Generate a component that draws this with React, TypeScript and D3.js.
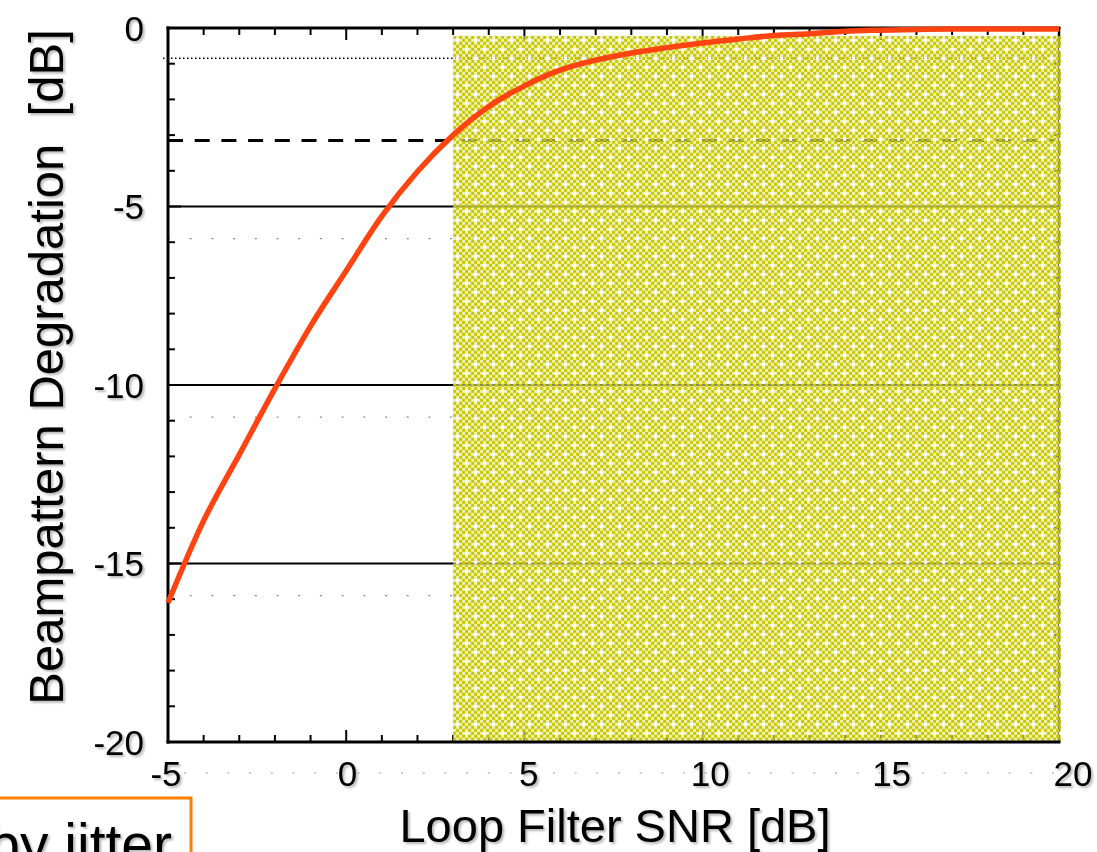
import React from "react";
import * as d3 from "d3";

const snr = [-5, -4, -3, -2, -1, 0, 1, 2, 3, 4, 5, 6, 7, 8, 9, 10, 11, 12, 13, 14, 15, 16, 17, 18, 19, 20];
const degradation = [-16.1, -13.8, -11.95, -10.1, -8.35, -6.8, -5.27, -4.02, -3.0, -2.2, -1.62, -1.18, -0.9, -0.7, -0.55, -0.42, -0.31, -0.21, -0.16, -0.09, -0.06, -0.04, -0.03, -0.03, -0.03, -0.03];

const xTickValues = [-5, 0, 5, 10, 15, 20];
const xTickLabels = ["-5", "0", "5", "10", "15", "20"];
const yTickValues = [0, -5, -10, -15, -20];
const yTickLabels = ["0", "-5", "-10", "-15", "-20"];

const solidLevels = [-5, -10, -15];
const sparseDotLevels = [-5.9, -10.9, -15.9];
const denseDotLevel = -0.85;
const dashedLevel = -3.15;

const shadeX = [3, 20];
const shadeY = [-0.22, -20];

const xTitle = "Loop Filter SNR [dB]";
const yTitle = "Beampattern Degradation  [dB]";
const boxText = "by jitter";

const FONT = "'Liberation Sans', Arial, Helvetica, sans-serif";

export default function App() {
  const x = d3.scaleLinear().domain([-5, 20]).range([168, 1059]);
  const y = d3.scaleLinear().domain([0, -20]).range([28, 742]);
  const xLab = d3.scaleLinear().domain([-5, 20]).range([166, 1073]);

  const line = d3
    .line<number>()
    .x((_, i) => x(snr[i]))
    .y((d) => y(d))
    .curve(d3.curveMonotoneX);

  const minorX = d3.range(-5, 20.001, 1);
  const minorY = d3.range(0, -20.001, -1);
  const cell = 3;
  const P = 18;

  return (
    <div style={{ position: "absolute", left: 0, top: 0 }}>
      <svg width={1097} height={852} style={{ display: "block" }} fontFamily={FONT}>
        <defs>
          <pattern id="shade" width={P} height={P} patternUnits="userSpaceOnUse" x={x(shadeX[0])} y={y(shadeY[0])}>
            <rect x={0} y={0} width={P} height={P} fill="#e6e68a" fillOpacity={0.6} />
            {d3.range(0, P, cell).flatMap((cx) =>
              d3.range(0, P, cell).map((cy) =>
                (cx / cell + cy / cell) % 2 === 0 ? (
                  <rect key={`${cx}-${cy}`} x={cx} y={cy} width={cell} height={cell} fill="#c8c800" />
                ) : null
              )
            )}
            <rect x={3} y={3} width={3} height={3} fill="#ffffff" />
            <rect x={12} y={12} width={3} height={3} fill="#ffffff" />
          </pattern>
          <filter id="shadow" x="-10%" y="-10%" width="130%" height="130%">
            <feDropShadow dx={2} dy={2} stdDeviation={1.2} floodColor="#000" floodOpacity={0.28} />
          </filter>
        </defs>

        {/* x tick label guide line */}
        <line x1={x(-5) + 16} x2={x(20)} y1={773} y2={773} stroke="#999" strokeWidth={1} strokeDasharray="2,19.7" />

        {/* reference lines */}
        {sparseDotLevels.map((v) => (
          <line key={`sd${v}`} x1={x(-5)} x2={x(20) - 12} y1={y(v)} y2={y(v)} stroke="#888" strokeWidth={1.2} strokeDasharray="2,19.7" />
        ))}
        <line x1={x(-5) - 5} x2={x(20) - 15} y1={y(denseDotLevel)} y2={y(denseDotLevel)} stroke="#000" strokeWidth={1.5} strokeDasharray="1.5,2.5" />
        <line x1={x(-5)} x2={x(20) - 5} y1={y(dashedLevel)} y2={y(dashedLevel)} stroke="#000" strokeWidth={3} strokeDasharray="15,11.7" />
        {solidLevels.map((v) => (
          <line key={`s${v}`} x1={x(-5)} x2={x(20)} y1={y(v)} y2={y(v)} stroke="#000" strokeWidth={2} />
        ))}

        {/* ticks */}
        {minorX.map((v) => {
          const major = xTickValues.includes(v);
          const len = major ? 12 : 7;
          return (
            <g key={`xt${v}`}>
              <line x1={x(v)} x2={x(v)} y1={y(-20)} y2={y(-20) - len} stroke="#000" strokeWidth={2} />
              <line x1={x(v)} x2={x(v)} y1={y(0)} y2={y(0) + len} stroke="#000" strokeWidth={2} />
            </g>
          );
        })}
        {minorY.map((v) => {
          const major = yTickValues.includes(v);
          const len = major ? 13 : 7;
          return (
            <g key={`yt${v}`}>
              <line x1={x(-5)} x2={x(-5) + len} y1={y(v)} y2={y(v)} stroke="#000" strokeWidth={2} />
              <line x1={x(20)} x2={x(20) - (major ? 10 : 5)} y1={y(v)} y2={y(v)} stroke="#000" strokeWidth={2} />
            </g>
          );
        })}

        {/* right border */}
        <line x1={x(20)} x2={x(20)} y1={y(0)} y2={y(-20)} stroke="#000" strokeWidth={2.5} />

        {/* shaded region */}
        <rect
          x={x(shadeX[0])}
          y={y(shadeY[0])}
          width={x(shadeX[1]) - x(shadeX[0]) + 2}
          height={y(shadeY[1]) - y(shadeY[0])}
          fill="url(#shade)"
        />

        {/* axes lines */}
        <line x1={x(-5)} x2={x(-5)} y1={y(0) - 1.5} y2={y(-20) + 1.5} stroke="#000" strokeWidth={3} />
        <line x1={x(-5) - 1.5} x2={x(20) + 1.5} y1={y(-20)} y2={y(-20)} stroke="#000" strokeWidth={3} />
        <line x1={x(-5) - 1.5} x2={x(20) + 1.5} y1={y(0)} y2={y(0)} stroke="#000" strokeWidth={3} />

        {/* curve */}
        <path d={line(degradation) || ""} fill="none" stroke="#ff4411" strokeWidth={5.5} strokeLinejoin="round" />

        {/* tick labels */}
        <g filter="url(#shadow)" fill="#000">
          {yTickValues.map((v, i) => (
            <text key={`yl${v}`} x={144} y={y(v)} fontSize={35} textAnchor="end" dominantBaseline="central">
              {yTickLabels[i]}
            </text>
          ))}
          {xTickValues.map((v, i) => (
            <text key={`xl${v}`} x={xLab(v)} y={773} fontSize={35} textAnchor="middle" dominantBaseline="central">
              {xTickLabels[i]}
            </text>
          ))}
          <text x={615} y={842} fontSize={47} textAnchor="middle">
            {xTitle}
          </text>
          <text
            transform={`translate(63,367) rotate(-90)`}
            fontSize={49}
            textAnchor="middle"
            style={{ whiteSpace: "pre" }}
          >
            {yTitle}
          </text>
        </g>

        {/* cut-off annotation box */}
        <rect x={-10} y={798} width={201} height={90} fill="#fff" stroke="#ff7f00" strokeWidth={3} />
        <text x={172} y={864} fontSize={57} textAnchor="end" filter="url(#shadow)">
          {boxText}
        </text>
      </svg>
    </div>
  );
}
